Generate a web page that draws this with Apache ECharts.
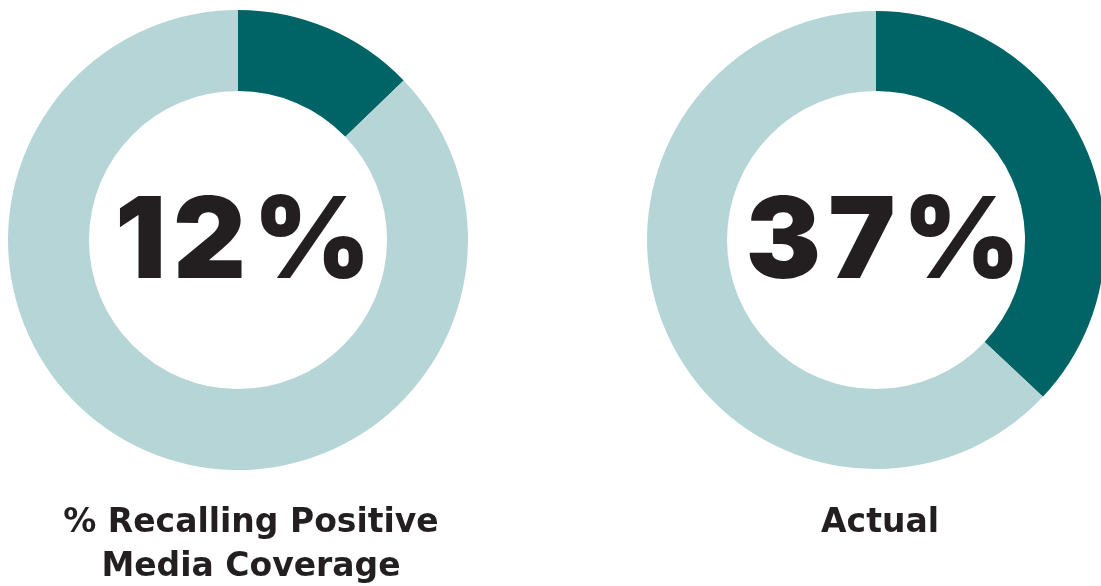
<!DOCTYPE html>
<html><head><meta charset="utf-8">
<script src="https://cdn.jsdelivr.net/npm/echarts@6/dist/echarts.min.js"></script>
<style>html,body{margin:0;padding:0;background:#fff}#c{width:1101px;height:586px}</style>
</head><body><div id="c"></div>
<script>
const chartNames = ["% Recalling Positive\nMedia Coverage", "Actual"];
const shareValues = [12.8, 37];
const centerLabels = ["12%", "37%"];
const segmentNames = ["Positive", "Other"];

const dark = "#006466", light = "#b5d5d7", ink = "#231f20";
const centers = [[238, 240], [876, 240]];
const radii = [[149, 230], [149, 229]];
const titleX = [246, 875];
const labelOffsets = [[5, 4], [7, 4]];

const chart = echarts.init(document.getElementById('c'), null, {renderer: 'canvas'});
const series = shareValues.map((v, i) => ({
  type: 'pie',
  center: centers[i],
  radius: radii[i],
  startAngle: 90,
  clockwise: true,
  silent: true,
  avoidLabelOverlap: false,
  labelLine: {show: false},
  itemStyle: {borderWidth: 0},
  emphasis: {disabled: true},
  data: [
    {name: segmentNames[0], value: v, itemStyle: {color: dark},
     label: {show: true, position: 'center',
             formatter: centerLabels[i].split('').map(ch => '{d|' + ch + '}').join(''),
             offset: labelOffsets[i],
             rich: {d: {fontFamily: 'Inter', fontWeight: 900, fontSize: 113, color: ink, padding: [0, 3.5]}}}},
    {name: segmentNames[1], value: 100 - v, itemStyle: {color: light}, label: {show: false}}
  ]
}));
const titles = chartNames.map((t, i) => ({
  text: t,
  left: titleX[i],
  top: 496,
  textAlign: 'center',
  textStyle: {fontFamily: 'DejaVu Sans', fontWeight: 'bold', fontSize: 33, color: ink, lineHeight: 44}
}));
chart.setOption({animation: false, title: titles, series: series});
</script></body></html>
